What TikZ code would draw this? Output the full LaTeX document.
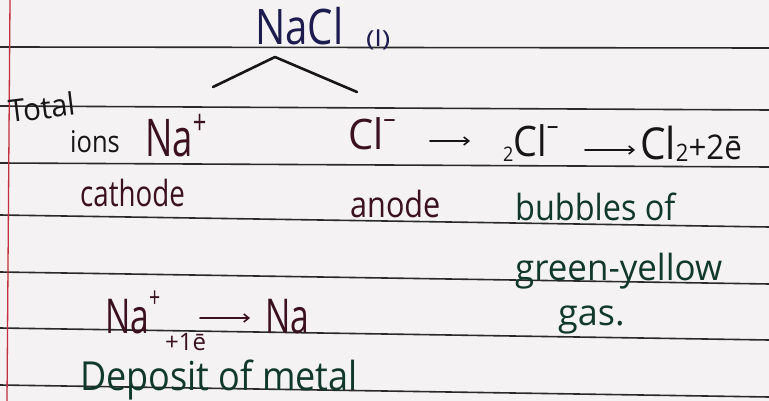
\documentclass[tikz,border=0pt]{standalone}
\usepackage{fontspec}
\setmainfont{Open Sans}
\usetikzlibrary{arrows.meta}
\definecolor{paper}{HTML}{F4F2F2}
\definecolor{ruleink}{HTML}{2A2A2A}
\definecolor{marginred}{HTML}{C0303E}
\definecolor{navyink}{HTML}{1C1C4E}
\definecolor{maroonink}{HTML}{3B1020}
\definecolor{blackink}{HTML}{161616}
\definecolor{greenink}{HTML}{10392C}
\newcommand{\hwsz}[1]{\fontsize{#1}{#1}\selectfont}
\newcommand{\hsq}[2]{\scalebox{#1}[1]{#2}}
\tikzset{
  rule/.style={draw=ruleink, line width=1.6pt},
  marginline/.style={draw=marginred, line width=1.3pt},
  hw/.style={inner sep=0pt, anchor=base west},
  pen/.style={line width=2.6pt, line cap=round, line join=round},
  arr/.style={line width=1.6pt, line cap=round, -{Straight Barb[length=5pt,width=8pt]}}
}
\begin{document}
\begin{tikzpicture}[x=1pt,y=-1pt]
\fill[paper] (0,0) rectangle (769,401);
\useasboundingbox (0,0) rectangle (769,401);
% ruled paper
\draw[rule] (0,47) -- (769,48);
\draw[rule] (0,106) -- (769,110);
\draw[rule] (0,163) -- (769,167);
\draw[rule] (0,215) -- (769,227);
\draw[rule] (0,272) -- (769,284);
\draw[rule] (0,328) -- (769,340);
\draw[rule] (0,385) -- (769,397);
\draw[marginline] (10,0) -- (7,401);
% title
\node[hw, text=navyink, font=\hwsz{49}] (nacl) at (255,45) {\hsq{0.82}{NaCl}};
\node[hw, text=navyink, font=\hwsz{22}] (liq) at (366,47) {\hsq{1.3}{(l)}};
% branch
\coordinate (apex) at (275,57);
\coordinate (bl) at (213,87);
\coordinate (br) at (357,92);
\draw[pen, blackink] (bl) -- (apex) -- (br);
% ions row
\node[hw, text=blackink, font=\hwsz{31}, rotate=7] (total) at (10,123) {\hsq{0.95}{Total}};
\node[hw, text=blackink, font=\hwsz{30}] (ions) at (70,153) {\hsq{0.85}{ions}};
\node[hw, text=maroonink, font=\hwsz{52}] (na) at (145,157) {\hsq{0.7}{Na\raisebox{22pt}{\hwsz{34}+}}};
\node[hw, text=maroonink, font=\hwsz{42}] (cl) at (348,150) {\hsq{0.95}{Cl\raisebox{22pt}{\hwsz{26}–}}};
\coordinate (a1s) at (430,141);
\coordinate (a1e) at (470,141);
\draw[arr, blackink] (a1s) -- (a1e);
\node[hw, text=blackink, font=\hwsz{42}] (eql) at (503,157) {\hsq{0.9}{\raisebox{-5pt}{\hwsz{20}2}Cl\raisebox{22pt}{\hwsz{26}–}}};
\coordinate (a2s) at (585,150);
\coordinate (a2e) at (635,150);
\draw[arr, blackink] (a2s) -- (a2e);
\node[hw, text=blackink, font=\hwsz{44}] (eqr) at (640,160) {\hsq{0.92}{Cl\raisebox{-2pt}{\hwsz{24}2}\hwsz{34}+2ē}};
% electrode row
\node[hw, text=maroonink, font=\hwsz{36}] (cathode) at (80,207) {\hsq{0.77}{cathode}};
\node[hw, text=maroonink, font=\hwsz{36}] (anode) at (350,218) {\hsq{0.85}{anode}};
\node[hw, text=greenink, font=\hwsz{36}] (bub) at (515,220) {\hsq{0.9}{bubbles of}};
\node[hw, text=greenink, font=\hwsz{36}] (gy) at (515,280) {\hsq{0.97}{green-yellow}};
\node[hw, text=greenink, font=\hwsz{36}] (gas) at (558,325) {gas.};
% cathode reaction
\node[hw, text=maroonink, font=\hwsz{48}] (nap) at (105,333) {\hsq{0.7}{Na\raisebox{26pt}{\hwsz{28}+}}};
\node[hw, text=maroonink, font=\hwsz{24}] (el) at (165,350) {+1ē};
\coordinate (a3s) at (200,318);
\coordinate (a3e) at (250,318);
\draw[arr, maroonink] (a3s) -- (a3e);
\node[hw, text=maroonink, font=\hwsz{48}] (nam) at (265,333) {\hsq{0.7}{Na}};
\node[hw, text=greenink, font=\hwsz{40}] (dep) at (80,390) {\hsq{0.9}{Deposit of metal}};
\end{tikzpicture}
\end{document}
